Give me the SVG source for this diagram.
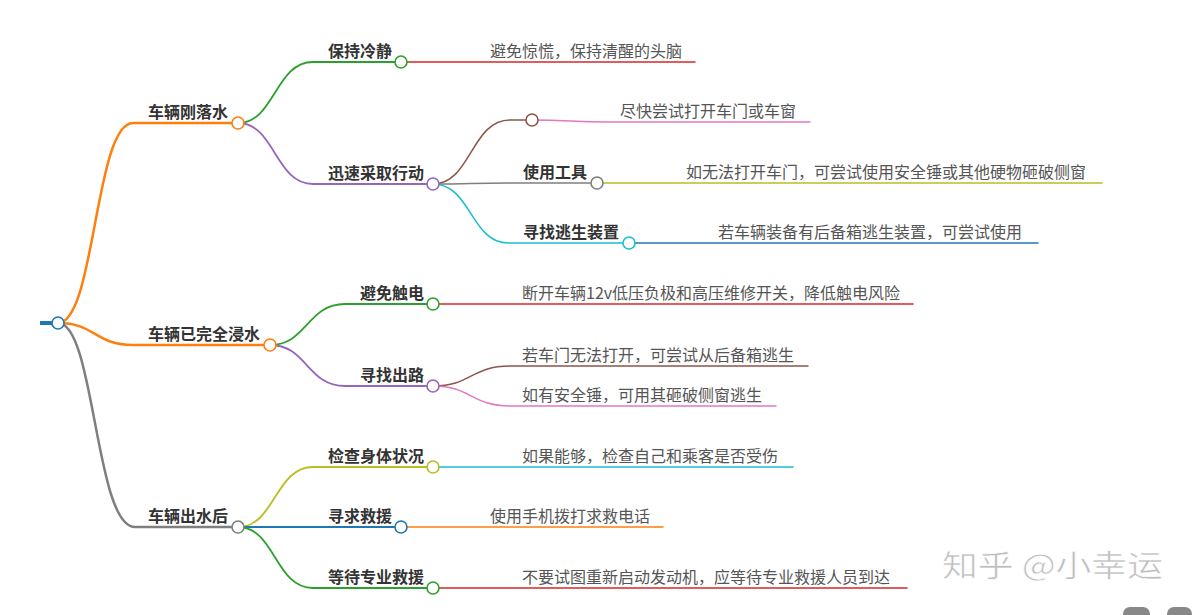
<svg xmlns="http://www.w3.org/2000/svg" width="1195" height="615" viewBox="0 0 1195 615">
<style>
.l{fill:none;stroke-linecap:round}
.d1{stroke-width:2.5}
.d2{stroke-width:1.8}
.d3{stroke-width:1.5}
.c{fill:#fff;stroke-width:1.6}
.t{font-family:"Noto Sans CJK SC","Microsoft YaHei",sans-serif;font-size:16px}
.b{font-weight:bold;fill:#333}
.n{fill:#555}
.wm{font-family:"Noto Sans CJK SC",sans-serif;font-size:30px;fill:#bdbdbd;stroke:#fff;stroke-width:0.6}
</style>
<rect width="1195" height="615" fill="#fff"/>
<g id="connectors">
<!-- root to level 1 -->
<path class="l d1" stroke="#ff7f0e" d="M58 323 C95 323 95 123 133 123 H232"/>
<path class="l d1" stroke="#ff7f0e" d="M58 323 C95 323 95 345 133 345 H264"/>
<path class="l d1" stroke="#7f7f7f" d="M58 323 C95 323 95 527 135 527 H232"/>
<!-- level 2 -->
<path class="l d2" stroke="#2ca02c" d="M238 123 C275 123 275 62 313 62 H395"/>
<path class="l d2" stroke="#9467bd" d="M238 123 C275 123 275 184 313 184 H427"/>
<path class="l d2" stroke="#2ca02c" d="M270 345 C307 345 307 304 345 304 H427"/>
<path class="l d2" stroke="#9467bd" d="M270 345 C307 345 307 386 345 386 H427"/>
<path class="l d2" stroke="#bcbd22" d="M238 527 C275 527 275 467 313 467 H427"/>
<path class="l d2" stroke="#1f77b4" d="M238 527 H395"/>
<path class="l d2" stroke="#2ca02c" d="M238 527 C275 527 275 588 313 588 H427"/>
<!-- level 3 -->
<path class="l d3" stroke="#d62728" d="M401 62 H695"/>
<path class="l d3" stroke="#8c564b" d="M433 184 C471 184 471 120 510 120 H526"/>
<path class="l d3" stroke="#e377c2" d="M532 120 C570 120 570 122 608 122 H810"/>
<path class="l d3" stroke="#7f7f7f" d="M433 184 C471 184 471 183 508 183 H591"/>
<path class="l d3" stroke="#bcbd22" d="M597 183 H1102"/>
<path class="l d3" stroke="#17becf" d="M433 184 C471 184 471 243 508 243 H623"/>
<path class="l d3" stroke="#1f77b4" d="M629 243 H1038"/>
<path class="l d3" stroke="#d62728" d="M433 304 H913"/>
<path class="l d3" stroke="#8c564b" d="M433 386 C471 386 471 366 510 366 H808"/>
<path class="l d3" stroke="#e377c2" d="M433 386 C471 386 471 406 510 406 H776"/>
<path class="l d3" stroke="#17becf" d="M433 467 H793"/>
<path class="l d3" stroke="#ff7f0e" d="M401 527 H663"/>
<path class="l d3" stroke="#d62728" d="M433 588 H907"/>
<!-- root stub -->
<path d="M40 323 H52" stroke="#1f77b4" stroke-width="4"/>
</g>
<g id="root"><circle class="c" cx="58" cy="323" r="6" stroke="#1f77b4"/></g>
<g id="n1"><text class="t b" x="148" y="118">车辆刚落水</text><circle class="c" cx="238" cy="123" r="6" stroke="#ff7f0e"/></g>
<g id="n2"><text class="t b" x="148" y="340">车辆已完全浸水</text><circle class="c" cx="270" cy="345" r="6" stroke="#ff7f0e"/></g>
<g id="n3"><text class="t b" x="148" y="522">车辆出水后</text><circle class="c" cx="238" cy="527" r="6" stroke="#7f7f7f"/></g>
<g id="n11"><text class="t b" x="328" y="57">保持冷静</text><circle class="c" cx="401" cy="62" r="6" stroke="#2ca02c"/></g>
<g id="n111"><text class="t n" x="490" y="57">避免惊慌，保持清醒的头脑</text></g>
<g id="n12"><text class="t b" x="328" y="179">迅速采取行动</text><circle class="c" cx="433" cy="184" r="6" stroke="#9467bd"/></g>
<g id="n121"><circle class="c" cx="532" cy="120" r="6" stroke="#8c564b"/></g>
<g id="n1211"><text class="t n" x="620" y="117">尽快尝试打开车门或车窗</text></g>
<g id="n122"><text class="t b" x="523" y="178">使用工具</text><circle class="c" cx="597" cy="183" r="6" stroke="#7f7f7f"/></g>
<g id="n1221"><text class="t n" x="686" y="178">如无法打开车门，可尝试使用安全锤或其他硬物砸破侧窗</text></g>
<g id="n123"><text class="t b" x="523" y="238">寻找逃生装置</text><circle class="c" cx="629" cy="243" r="6" stroke="#17becf"/></g>
<g id="n1231"><text class="t n" x="718" y="238">若车辆装备有后备箱逃生装置，可尝试使用</text></g>
<g id="n21"><text class="t b" x="360" y="299">避免触电</text><circle class="c" cx="433" cy="304" r="6" stroke="#2ca02c"/></g>
<g id="n211"><text class="t n" x="522" y="299">断开车辆12v低压负极和高压维修开关，降低触电风险</text></g>
<g id="n22"><text class="t b" x="360" y="381">寻找出路</text><circle class="c" cx="433" cy="386" r="6" stroke="#9467bd"/></g>
<g id="n221"><text class="t n" x="522" y="361">若车门无法打开，可尝试从后备箱逃生</text></g>
<g id="n222"><text class="t n" x="522" y="401">如有安全锤，可用其砸破侧窗逃生</text></g>
<g id="n31"><text class="t b" x="328" y="462">检查身体状况</text><circle class="c" cx="433" cy="467" r="6" stroke="#bcbd22"/></g>
<g id="n311"><text class="t n" x="522" y="462">如果能够，检查自己和乘客是否受伤</text></g>
<g id="n32"><text class="t b" x="328" y="522">寻求救援</text><circle class="c" cx="401" cy="527" r="6" stroke="#1f77b4"/></g>
<g id="n321"><text class="t n" x="490" y="522">使用手机拨打求救电话</text></g>
<g id="n33"><text class="t b" x="328" y="583">等待专业救援</text><circle class="c" cx="433" cy="588" r="6" stroke="#2ca02c"/></g>
<g id="n331"><text class="t n" x="522" y="583">不要试图重新启动发动机，应等待专业救援人员到达</text></g>
<g id="watermark">
<text class="wm" x="942" y="576" textLength="221" lengthAdjust="spacingAndGlyphs">知乎 @小幸运</text>
<rect x="1123" y="607" width="27" height="16" rx="7" fill="#888"/>
<rect x="1167" y="607" width="25" height="16" rx="7" fill="#888"/>
</g>
</svg>
